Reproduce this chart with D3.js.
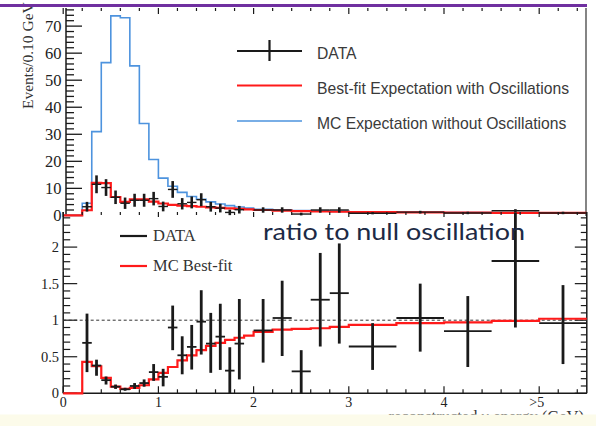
<!DOCTYPE html>
<html>
<head>
<meta charset="utf-8">
<script src="https://cdn.jsdelivr.net/npm/d3@7"></script>
<style>
  html, body { margin: 0; padding: 0; background: #fff; }
  svg { display: block; }
</style>
</head>
<body>
<svg id="chart" width="596" height="426"></svg>
<script>
// Histogram bin edges for the MC expectations (GeV)
const mcEdges = [0, 0.2, 0.3, 0.4, 0.5, 0.6, 0.7, 0.8, 0.9, 1.0, 1.1, 1.2, 1.3, 1.4, 1.5, 1.6, 1.7, 1.8, 1.9,
                 2.0, 2.2, 2.4, 2.6, 2.8, 3.0, 3.5, 4.0, 4.5, 5.0, 5.5];
// Events / 0.10 GeV, no oscillation MC
const mcNoOsc = [0, 4.5, 31, 56.5, 73.8, 73.1, 55.3, 34, 20.7, 13.8, 10.8, 8.5, 7.0, 6.0, 5.0, 4.2, 3.6, 3.1, 2.7,
                 2.3, 2.0, 1.8, 1.6, 1.5, 1.3, 1.15, 1.05, 0.95, 0.85];
// Events / 0.10 GeV, best-fit with oscillations
const mcBestFit = [0, 1.9, 12.0, 11.9, 6.8, 5.0, 5.9, 5.9, 5.1, 4.4, 3.9, 3.6, 3.4, 3.2, 3.0, 2.8, 2.6, 2.4, 2.2,
                   2.0, 1.8, 1.6, 1.45, 1.35, 1.2, 1.1, 1.0, 0.95, 0.9];
// Best-fit / no-oscillation ratio
const mcRatio = [0, 0.43, 0.37, 0.21, 0.09, 0.06, 0.075, 0.11, 0.19, 0.28, 0.36, 0.45, 0.52, 0.59, 0.65, 0.69, 0.73, 0.76, 0.79,
                 0.84, 0.87, 0.88, 0.89, 0.91, 0.935, 0.96, 0.97, 0.99, 1.02];

// Data bins (GeV)
const dataLow  = [0.2, 0.3, 0.4, 0.5, 0.6, 0.7, 0.8, 0.9, 1.0, 1.1, 1.2, 1.3, 1.4, 1.5, 1.6, 1.7, 1.8,
                  2.0, 2.2, 2.4, 2.6, 2.8, 3.0, 3.5, 4.0, 4.5, 5.0];
const dataHigh = [0.3, 0.4, 0.5, 0.6, 0.7, 0.8, 0.9, 1.0, 1.1, 1.2, 1.3, 1.4, 1.5, 1.6, 1.7, 1.8, 1.9,
                  2.2, 2.4, 2.6, 2.8, 3.0, 3.5, 4.0, 4.5, 5.0, 5.5];
// Data events / 0.10 GeV and errors
const dataEvents = [3.2, 11.5, 10.3, 6.7, 4.5, 5.6, 5.6, 6.2, 3.3, 9.6, 4.3, 4.8, 5.8, 3.2, 2.7, 1.1, 2.1,
                    2.0, 2.0, 0.5, 2.0, 2.0, 0.8, 1.2, 0.9, 1.7, 0.9];
const dataEventsErr = [1.8, 3.3, 3.1, 2.5, 2.1, 2.4, 2.4, 2.5, 1.8, 3.1, 2.1, 2.2, 2.4, 1.8, 1.6, 1.0, 1.4,
                       1.0, 1.0, 0.5, 1.0, 1.0, 0.4, 0.5, 0.45, 0.6, 0.45];
// Data / no-oscillation ratio with asymmetric errors
const dataRatio = [0.69, 0.38, 0.18, 0.09, 0.055, 0.10, 0.14, 0.29, 0.225, 0.90, 0.52, 0.635, 0.98, 0.68, 0.775, 0.31, 0.68,
                   0.86, 1.03, 0.30, 1.28, 1.37, 0.64, 1.03, 0.85, 1.81, 0.96];
const dataRatioUp = [0.40, 0.08, 0.05, 0.03, 0.02, 0.04, 0.05, 0.11, 0.11, 0.30, 0.26, 0.30, 0.43, 0.42, 0.45, 0.32, 0.61,
                     0.43, 0.51, 0.29, 0.64, 0.68, 0.32, 0.47, 0.48, 0.66, 0.52];
const dataRatioDown = [0.40, 0.14, 0.06, 0.03, 0.02, 0.04, 0.05, 0.12, 0.13, 0.31, 0.26, 0.31, 0.45, 0.40, 0.455, 0.31, 0.49,
                       0.44, 0.52, 0.30, 0.64, 0.69, 0.32, 0.46, 0.49, 0.91, 0.56];

// Axis tick labels
const topYTicks = [0, 10, 20, 30, 40, 50, 60, 70];
const ratioYTicks = [0, 0.5, 1, 1.5, 2];
const ratioYLabels = ["0", "0.5", "1", "1.5", "2"];
const xTicks = [0, 1, 2, 3, 4, 5];
const xTickLabels = ["0", "1", "2", "3", "4", ">5"];

const svg = d3.select("#chart");
const RED = "#ff1a1a", BLUE = "#4d93de", INK = "#1a1a1a";
const serif = "'Liberation Serif', 'DejaVu Serif', serif";
const sans = "'Liberation Sans', Arial, sans-serif";

const x = d3.scaleLinear().domain([0, 5.5]).range([63.2, 586.8]);
const yTop = d3.scaleLinear().domain([0, 76.7]).range([215.4, 8]);
const yRat = d3.scaleLinear().domain([0, 2.48]).range([393.3, 212]);

function stepPath(edges, vals, y) {
  const pts = vals.map((v, i) => [edges[i], v]);
  pts.push([edges[edges.length - 1], vals[vals.length - 1]]);
  return d3.line().x(d => x(d[0])).y(d => y(d[1])).curve(d3.curveStepAfter)(pts);
}

// ---------- upper panel: event spectrum ----------
const upper = svg.append("g");

// frame: left axis, top axis, right edge
const upperLeftX = 66;
upper.append("line").attr("x1", upperLeftX).attr("x2", upperLeftX).attr("y1", 8).attr("y2", 216)
  .attr("stroke", INK).attr("stroke-width", 1.5);
upper.append("line").attr("x1", 586).attr("x2", 586).attr("y1", 8).attr("y2", 216)
  .attr("stroke", "#333").attr("stroke-width", 1.2);

const upperMinor = d3.range(0, 77, 2);
upper.selectAll(".tyminor").data(upperMinor).join("line")
  .attr("x1", upperLeftX).attr("x2", d => upperLeftX + (d % 10 === 0 ? 16 : 8))
  .attr("y1", d => yTop(d)).attr("y2", d => yTop(d))
  .attr("stroke", INK).attr("stroke-width", 1.3);
upper.selectAll(".tylab").data(topYTicks).join("text")
  .attr("x", 61.5).attr("y", d => yTop(d)).attr("dy", "0.35em")
  .attr("text-anchor", "end").attr("font-family", serif).attr("font-size", 16.5)
  .attr("fill", "#222").text(d => d);

// top x-axis ticks
const xMinor = d3.range(0, 5.51, 0.2);
upper.selectAll(".txt").data(xMinor).join("line")
  .attr("x1", d => x(d)).attr("x2", d => x(d))
  .attr("y1", 8).attr("y2", d => 8 + (Math.abs(d - Math.round(d)) < 1e-6 ? 6 : 3))
  .attr("stroke", INK).attr("stroke-width", 1.2);

upper.append("text")
  .attr("transform", "translate(32.5,109) rotate(-90)")
  .attr("text-anchor", "start").attr("font-family", serif).attr("font-size", 15.5)
  .attr("fill", "#333").text("Events/0.10 GeV");

upper.append("path").attr("d", stepPath(mcEdges, mcNoOsc, yTop))
  .attr("fill", "none").attr("stroke", BLUE).attr("stroke-width", 1.6);
upper.append("path").attr("d", stepPath(mcEdges, mcBestFit, yTop))
  .attr("fill", "none").attr("stroke", RED).attr("stroke-width", 2.2);

const upperPts = upper.selectAll(".tp").data(dataEvents.map((v, i) => ({
  lo: dataLow[i], hi: dataHigh[i], v, e: dataEventsErr[i]
}))).join("g");
upperPts.append("line")
  .attr("x1", d => x((d.lo + d.hi) / 2)).attr("x2", d => x((d.lo + d.hi) / 2))
  .attr("y1", d => yTop(Math.max(0, d.v - d.e))).attr("y2", d => yTop(d.v + d.e))
  .attr("stroke", INK).attr("stroke-width", 2.6);
upperPts.append("line")
  .attr("x1", d => x(d.lo)).attr("x2", d => x(d.hi))
  .attr("y1", d => yTop(d.v)).attr("y2", d => yTop(d.v))
  .attr("stroke", INK).attr("stroke-width", 1.4);

// legend
const lg = upper.append("g");
lg.append("line").attr("x1", 237).attr("x2", 302).attr("y1", 51).attr("y2", 51).attr("stroke", INK).attr("stroke-width", 1.8);
lg.append("line").attr("x1", 269.5).attr("x2", 269.5).attr("y1", 40).attr("y2", 61).attr("stroke", INK).attr("stroke-width", 2.2);
lg.append("line").attr("x1", 237).attr("x2", 302).attr("y1", 85.5).attr("y2", 85.5).attr("stroke", RED).attr("stroke-width", 2);
lg.append("line").attr("x1", 237).attr("x2", 302).attr("y1", 121).attr("y2", 121).attr("stroke", BLUE).attr("stroke-width", 1.5);
const legTexts = ["DATA", "Best-fit Expectation with Oscillations", "MC Expectation without Oscillations"];
const legY = [58.5, 93.5, 128.5];
lg.selectAll("text").data(legTexts).join("text")
  .attr("x", 317).attr("y", (d, i) => legY[i])
  .attr("font-family", sans).attr("font-size", 15.7).attr("fill", "#3a3a3a").text(d => d);

// purple rule across the top
svg.append("line").attr("x1", 0).attr("x2", 587).attr("y1", 5.5).attr("y2", 5.5)
  .attr("stroke", "#7030a0").attr("stroke-width", 3);

// ---------- lower panel: ratio ----------
const lower = svg.append("g");

lower.append("line").attr("x1", x(0)).attr("x2", x(0)).attr("y1", 212).attr("y2", 393.3)
  .attr("stroke", INK).attr("stroke-width", 1.5);
lower.append("line").attr("x1", x(5.5)).attr("x2", x(5.5)).attr("y1", 212).attr("y2", 393.3)
  .attr("stroke", INK).attr("stroke-width", 1.5);
lower.append("line").attr("x1", x(0)).attr("x2", x(5.5)).attr("y1", 393.3).attr("y2", 393.3)
  .attr("stroke", INK).attr("stroke-width", 1.6);

const rMinor = d3.range(0, 2.45, 0.1).map(d => Math.round(d * 10) / 10);
const isMajorR = d => Math.abs(d * 2 - Math.round(d * 2)) < 1e-6;
lower.selectAll(".rl").data(rMinor).join("line")
  .attr("x1", x(0)).attr("x2", d => x(0) + (isMajorR(d) ? 14 : 7))
  .attr("y1", d => yRat(d)).attr("y2", d => yRat(d))
  .attr("stroke", INK).attr("stroke-width", 1.2);
lower.selectAll(".rr").data(rMinor).join("line")
  .attr("x1", x(5.5)).attr("x2", d => x(5.5) - (isMajorR(d) ? 12 : 6))
  .attr("y1", d => yRat(d)).attr("y2", d => yRat(d))
  .attr("stroke", INK).attr("stroke-width", 1.2);
const isMajorX = d => Math.abs(d - Math.round(d)) < 1e-6;
lower.selectAll(".rb").data(xMinor).join("line")
  .attr("x1", d => x(d)).attr("x2", d => x(d))
  .attr("y1", 393.3).attr("y2", d => 393.3 - (isMajorX(d) ? 7 : 4))
  .attr("stroke", INK).attr("stroke-width", 1.2);
lower.selectAll(".rt").data(xMinor).join("line")
  .attr("x1", d => x(d)).attr("x2", d => x(d))
  .attr("y1", 212).attr("y2", d => 212 + (isMajorX(d) ? 5 : 3))
  .attr("stroke", INK).attr("stroke-width", 1.2);

lower.selectAll(".rylab").data(ratioYTicks).join("text")
  .attr("x", 59).attr("y", d => yRat(d)).attr("dy", "0.35em")
  .attr("text-anchor", "end").attr("font-family", serif).attr("font-size", 14.5)
  .attr("fill", "#222").text((d, i) => ratioYLabels[i]);
lower.selectAll(".rxlab").data(xTicks).join("text")
  .attr("x", d => x(d) + (d === 5 ? 5 : 0)).attr("y", 406.5)
  .attr("text-anchor", d => d === 5 ? "end" : "middle")
  .attr("font-family", serif).attr("font-size", 14)
  .attr("fill", "#222").text((d, i) => xTickLabels[i]);

// reference line at ratio = 1
lower.append("line").attr("x1", x(0)).attr("x2", x(5.5)).attr("y1", yRat(1)).attr("y2", yRat(1))
  .attr("stroke", "#333").attr("stroke-width", 1).attr("stroke-dasharray", "3,2.5");

lower.append("path").attr("d", stepPath(mcEdges, mcRatio, yRat))
  .attr("fill", "none").attr("stroke", RED).attr("stroke-width", 2.2);

const ratPts = lower.selectAll(".rp").data(dataRatio.map((v, i) => ({
  lo: dataLow[i], hi: dataHigh[i], v, up: dataRatioUp[i], dn: dataRatioDown[i]
}))).join("g");
ratPts.append("line")
  .attr("x1", d => x((d.lo + d.hi) / 2)).attr("x2", d => x((d.lo + d.hi) / 2))
  .attr("y1", d => yRat(Math.max(0, d.v - d.dn))).attr("y2", d => yRat(d.v + d.up))
  .attr("stroke", INK).attr("stroke-width", 2.8);
ratPts.append("line")
  .attr("x1", d => x(d.lo)).attr("x2", d => x(d.hi))
  .attr("y1", d => yRat(d.v)).attr("y2", d => yRat(d.v))
  .attr("stroke", INK).attr("stroke-width", 1.8);

// ratio legend
lower.append("line").attr("x1", 120).attr("x2", 147).attr("y1", 236).attr("y2", 236).attr("stroke", INK).attr("stroke-width", 2.2);
lower.append("text").attr("x", 153).attr("y", 241).attr("font-family", serif).attr("font-size", 16.5)
  .attr("fill", "#333").text("DATA");
lower.append("line").attr("x1", 120).attr("x2", 147).attr("y1", 266).attr("y2", 266).attr("stroke", RED).attr("stroke-width", 2.2);
lower.append("text").attr("x", 153).attr("y", 271).attr("font-family", serif).attr("font-size", 16.5)
  .attr("fill", "#333").text("MC Best-fit");

lower.append("text").attr("x", 263).attr("y", 240)
  .attr("font-family", "Lato, 'Open Sans', sans-serif").attr("font-size", 23)
  .attr("textLength", 262).attr("lengthAdjust", "spacingAndGlyphs")
  .attr("fill", "#1c2a45").text("ratio to null oscillation");

// x-axis title, partly hidden by the pale strip at the bottom
lower.append("text").attr("x", 584).attr("y", 422).attr("text-anchor", "end")
  .attr("font-family", serif).attr("font-size", 16.5).attr("fill", "#333")
  .text("reconstructed \u03bd energy (GeV)");
svg.append("rect").attr("x", 0).attr("y", 414.5).attr("width", 596).attr("height", 12)
  .attr("fill", "#fcfbea");
</script>
</body>
</html>
